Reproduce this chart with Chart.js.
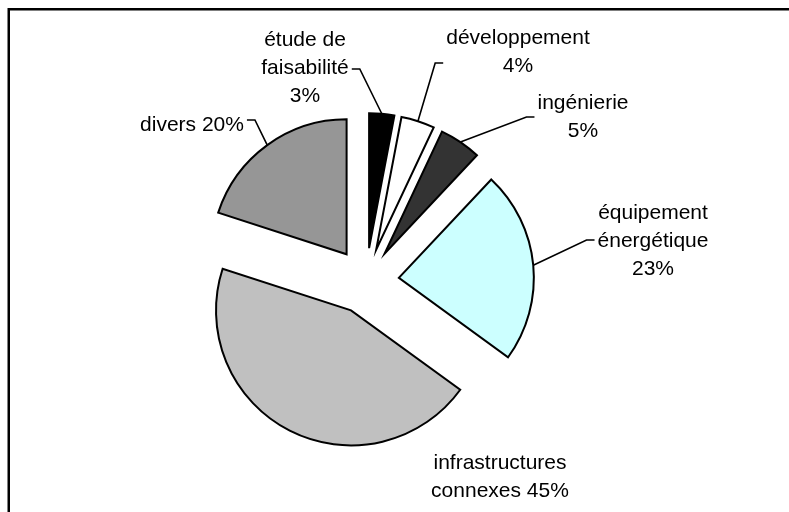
<!DOCTYPE html>
<html lang="fr">
<head>
<meta charset="utf-8">
<title>Répartition des coûts</title>
<script src="https://cdn.jsdelivr.net/npm/chart.js@4.4.1/dist/chart.umd.min.js"></script>
<style>
    html, body { margin: 0; padding: 0; background: #fff; overflow: hidden; }
    #wrap { width: 789px; height: 512px; }
</style>
</head>
<body>
<div id="wrap"><canvas id="camembert" width="789" height="512"></canvas></div>
<script>
// ─── Données ───────────────────────────────────────────────
const categories = ['étude de faisabilité', 'développement', 'ingénierie',
    'équipement énergétique', 'infrastructures connexes', 'divers'];
const parts = [3, 4, 5, 23, 45, 20];
const couleurs = ['#000000', '#ffffff', '#333333', '#ccffff', '#c0c0c0', '#969696'];
// découpage des étiquettes en lignes (le % est ajouté à la fin)
const lignes = [
    ['étude de', 'faisabilité'],
    ['développement'],
    ['ingénierie'],
    ['équipement', 'énergétique'],
    ['infrastructures', 'connexes'],
    ['divers']
];
const pctEnLigne = [false, false, false, false, true, true];

// ─── Mise en page des étiquettes ──────────────────────────
const FONT = '21px "Liberation Sans", Arial, sans-serif';
const INTERLIGNE = 28;
const ECLATEMENT = 33;
const placement = [
    { cx: 305, y: 40,  cote: 'droite', ligne: 1,   dy: 1 },
    { cx: 518, y: 38,  cote: 'gauche', ligne: 1,   dy: -3 },
    { cx: 583, y: 103, cote: 'gauche', ligne: 0.5, dy: 0 },
    { cx: 653, y: 213, cote: 'gauche', ligne: 1,   dy: -1 },
    { cx: 500, y: 463, cote: null },
    { cx: 192, y: 125, cote: 'droite', ligne: 0,   dy: -5 }
];

function texteEtiquette(i) {
    const l = lignes[i].slice();
    if (pctEnLigne[i]) l[l.length - 1] += ' ' + parts[i] + '%';
    else l.push(parts[i] + '%');
    return l;
}

// cadre (bord haut et gauche visibles)
const cadre = {
    id: 'cadre',
    beforeDraw(chart) {
        const ctx = chart.ctx;
        ctx.save();
        ctx.fillStyle = '#000';
        ctx.fillRect(8, 8, chart.width, 2.5);
        ctx.fillRect(7.5, 8, 2.5, chart.height);
        ctx.restore();
    }
};

// parts éclatées : chaque secteur est décalé le long de sa bissectrice
const eclate = {
    id: 'eclate',
    beforeDatasetDraw(chart, args) {
        const ctx = chart.ctx;
        args.meta.data.forEach(arc => {
            const { startAngle, endAngle } = arc.getProps(['startAngle', 'endAngle'], true);
            const mid = (startAngle + endAngle) / 2;
            ctx.save();
            ctx.translate(Math.cos(mid) * ECLATEMENT, Math.sin(mid) * ECLATEMENT);
            arc.draw(ctx, chart.chartArea);
            ctx.restore();
        });
        return false;
    }
};

// étiquettes + traits de rappel
const etiquettes = {
    id: 'etiquettes',
    afterDraw(chart) {
        const ctx = chart.ctx;
        const arcs = chart.getDatasetMeta(0).data;
        ctx.save();
        ctx.font = FONT;
        ctx.fillStyle = '#000';
        ctx.strokeStyle = '#000';
        ctx.lineWidth = 1.6;
        ctx.textAlign = 'center';
        ctx.textBaseline = 'middle';

        arcs.forEach((arc, i) => {
            const p = placement[i];
            const txt = texteEtiquette(i);
            let largeur = 0;
            txt.forEach((t, k) => {
                ctx.fillText(t, p.cx, p.y + k * INTERLIGNE);
                largeur = Math.max(largeur, ctx.measureText(t).width);
            });
            if (!p.cote) return;

            const { x, y, startAngle, endAngle, outerRadius } =
                arc.getProps(['x', 'y', 'startAngle', 'endAngle', 'outerRadius'], true);
            const mid = (startAngle + endAngle) / 2;
            const ex = x + Math.cos(mid) * (outerRadius + ECLATEMENT);
            const ey = y + Math.sin(mid) * (outerRadius + ECLATEMENT);

            const sens = p.cote === 'droite' ? 1 : -1;
            const sx = p.cx + sens * (largeur / 2 + 3);
            const sy = p.y + p.ligne * INTERLIGNE + p.dy;
            ctx.beginPath();
            ctx.moveTo(sx, sy);
            ctx.lineTo(sx + sens * 8, sy);
            ctx.lineTo(ex, ey);
            ctx.stroke();
        });
        ctx.restore();
    }
};

new Chart(document.getElementById('camembert'), {
    type: 'pie',
    data: {
        labels: categories,
        datasets: [{
            data: parts,
            backgroundColor: couleurs,
            borderColor: '#000',
            borderWidth: 2,
            borderJoinStyle: 'miter',
            radius: 135,
            hoverOffset: 0
        }]
    },
    options: {
        responsive: false,
        animation: false,
        layout: { padding: { left: 0, right: 57, top: 50, bottom: 0 } },
        plugins: {
            legend: { display: false },
            tooltip: { enabled: false }
        }
    },
    plugins: [cadre, eclate, etiquettes]
});
</script>
</body>
</html>
